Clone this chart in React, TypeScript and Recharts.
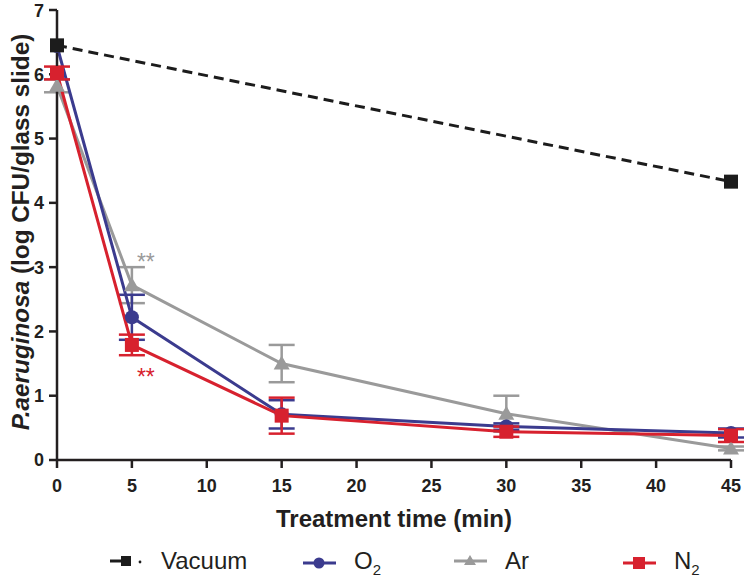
import React from "react"
import {
    LineChart,
    Line,
    XAxis,
    YAxis,
    ErrorBar,
    Legend,
    Label,
    ReferenceDot,
} from "recharts"

const times = [0, 5, 15, 30, 45]
const vacuum = [6.45, null, null, null, 4.33]
const o2 = [6.44, 2.22, 0.71, 0.52, 0.42]
const o2Err = [null, 0.35, 0.22, 0.05, 0.07]
const ar = [5.82, 2.72, 1.5, 0.72, 0.18]
const arErr = [0.1, 0.28, 0.29, 0.28, 0.03]
const n2 = [6.02, 1.79, 0.69, 0.44, 0.38]
const n2Err = [0.1, 0.16, 0.28, 0.08, 0.1]

const xTicks = [0, 5, 10, 15, 20, 25, 30, 35, 40, 45]
const yTicks = [0, 1, 2, 3, 4, 5, 6, 7]

// significance marks: [time, y, colour]
const stars: [number, number, string][] = [
    [5, 3.08, "#9a9a9a"],
    [5, 1.3, "#d7212e"],
]

const data = times.map((t, i) => ({
    time: t,
    vacuum: vacuum[i],
    o2: o2[i],
    o2Err: o2Err[i],
    ar: ar[i],
    arErr: arErr[i],
    n2: n2[i],
    n2Err: n2Err[i],
}))

const font = "'Liberation Sans', Arial, sans-serif"
const ink = "#231f20"

const BLACK = "#1c1c1c"
const BLUE = "#3b3b8e"
const GREY = "#9a9a9a"
const RED = "#d7212e"

function square(color: string) {
    return (props: any) => {
        const { cx, cy, index } = props
        if (cx == null || cy == null || props.value == null) return <g key={index} />
        return <rect key={index} x={cx - 7} y={cy - 7} width={14} height={14} fill={color} />
    }
}

function circle(color: string) {
    return (props: any) => {
        const { cx, cy, index } = props
        if (cx == null || cy == null) return <g key={index} />
        return <circle key={index} cx={cx} cy={cy} r={7} fill={color} />
    }
}

function triangle(color: string) {
    return (props: any) => {
        const { cx, cy, index } = props
        if (cx == null || cy == null) return <g key={index} />
        return (
            <polygon
                key={index}
                points={`${cx},${cy - 8} ${cx - 8},${cy + 6} ${cx + 8},${cy + 6}`}
                fill={color}
            />
        )
    }
}

function LegendIcon({ kind, color }: { kind: string; color: string }) {
    return (
        <svg width={33} height={14} style={{ marginRight: 18 }}>
            {kind === "vacuum" ? (
                <>
                    <line x1={0} y1={7} x2={16} y2={7} stroke={color} strokeWidth={3} />
                    <rect x={11} y={2} width={10} height={10} fill={color} />
                    <circle cx={30} cy={8} r={1.4} fill={color} />
                </>
            ) : (
                <>
                    <line x1={0} y1={7} x2={33} y2={7} stroke={color} strokeWidth={3} />
                    {kind === "circle" && <circle cx={16} cy={7} r={5.5} fill={color} />}
                    {kind === "triangle" && <polygon points="16,1 10,11 22,11" fill={color} />}
                    {kind === "square" && <rect x={10} y={1} width={12} height={12} fill={color} />}
                </>
            )}
        </svg>
    )
}

function ChartLegend() {
    const sub = { fontSize: 15, verticalAlign: "-6px", lineHeight: "15px" }
    const items = [
        { left: 110, kind: "vacuum", color: BLACK, label: <>Vacuum</> },
        { left: 303, kind: "circle", color: BLUE, label: <>O<span style={sub}>2</span></> },
        { left: 454, kind: "triangle", color: GREY, label: <>Ar</> },
        { left: 623, kind: "square", color: RED, label: <>N<span style={sub}>2</span></> },
    ]
    return (
        <div style={{ position: "relative", width: 744, height: 49 }}>
            {items.map((it, i) => (
                <div
                    key={i}
                    style={{
                        position: "absolute",
                        left: it.left,
                        top: 18,
                        display: "flex",
                        alignItems: "center",
                        fontFamily: font,
                        fontSize: 24,
                        color: ink,
                        lineHeight: "26px",
                        whiteSpace: "nowrap",
                    }}
                >
                    <LegendIcon kind={it.kind} color={it.color} />
                    <span>{it.label}</span>
                </div>
            ))}
        </div>
    )
}

function YLabel(props: any) {
    const vb = props.viewBox
    const x = vb.x + 20
    const y = vb.y + vb.height / 2 - 3
    return (
        <text
            x={x}
            y={y}
            transform={`rotate(-90, ${x}, ${y})`}
            textAnchor="middle"
            dominantBaseline="central"
            fontFamily={font}
            fontSize={24.3}
            fontWeight="bold"
            fill={ink}
        >
            <tspan fontStyle="italic">P.aeruginosa</tspan>
            <tspan> (log CFU/glass slide)</tspan>
        </text>
    )
}

function XLabel(props: any) {
    const vb = props.viewBox
    return (
        <text
            x={vb.x + vb.width / 2}
            y={vb.y + 58}
            textAnchor="middle"
            dominantBaseline="central"
            fontFamily={font}
            fontSize={24}
            fontWeight="bold"
            fill={ink}
        >
            Treatment time (min)
        </text>
    )
}

export default function App() {
    const tickStyle = { fill: ink, fontFamily: font, fontSize: 18, fontWeight: "bold" }
    return (
        <div style={{ position: "absolute", left: 0, top: 0, background: "#fff" }}>
            <LineChart
                width={744}
                height={579}
                data={data}
                margin={{ top: 10, right: 13, bottom: 0, left: 0 }}
            >
                <XAxis
                    dataKey="time"
                    type="number"
                    domain={[0, 45]}
                    ticks={xTicks}
                    height={70}
                    stroke={ink}
                    strokeWidth={2.5}
                    tickSize={8}
                    tickMargin={11}
                    tick={tickStyle}
                >
                    <Label content={<XLabel />} />
                </XAxis>
                <YAxis
                    type="number"
                    domain={[0, 7]}
                    ticks={yTicks}
                    width={57}
                    stroke={ink}
                    strokeWidth={2.5}
                    tickSize={8}
                    tickMargin={5}
                    tick={tickStyle}
                >
                    <Label content={<YLabel />} />
                </YAxis>
                <Legend verticalAlign="bottom" content={() => <ChartLegend />} />
                <Line
                    dataKey="ar"
                    stroke={GREY}
                    strokeWidth={3}
                    dot={triangle(GREY)}
                    isAnimationActive={false}
                >
                    <ErrorBar dataKey="arErr" width={13} stroke={GREY} strokeWidth={2.5} />
                </Line>
                <Line
                    dataKey="o2"
                    stroke={BLUE}
                    strokeWidth={3}
                    dot={circle(BLUE)}
                    isAnimationActive={false}
                >
                    <ErrorBar dataKey="o2Err" width={13} stroke={BLUE} strokeWidth={2.5} />
                </Line>
                <Line
                    dataKey="n2"
                    stroke={RED}
                    strokeWidth={3}
                    dot={square(RED)}
                    isAnimationActive={false}
                >
                    <ErrorBar dataKey="n2Err" width={13} stroke={RED} strokeWidth={2.5} />
                </Line>
                <Line
                    dataKey="vacuum"
                    stroke={BLACK}
                    strokeWidth={3}
                    strokeDasharray="10 6"
                    connectNulls
                    dot={square(BLACK)}
                    isAnimationActive={false}
                />
                {stars.map(([t, v, c], i) => (
                    <ReferenceDot
                        key={i}
                        x={t}
                        y={v}
                        r={0}
                        fill="none"
                        stroke="none"
                        label={{ value: "**", position: "right", fill: c, fontSize: 23, fontFamily: font }}
                    />
                ))}
            </LineChart>
        </div>
    )
}
